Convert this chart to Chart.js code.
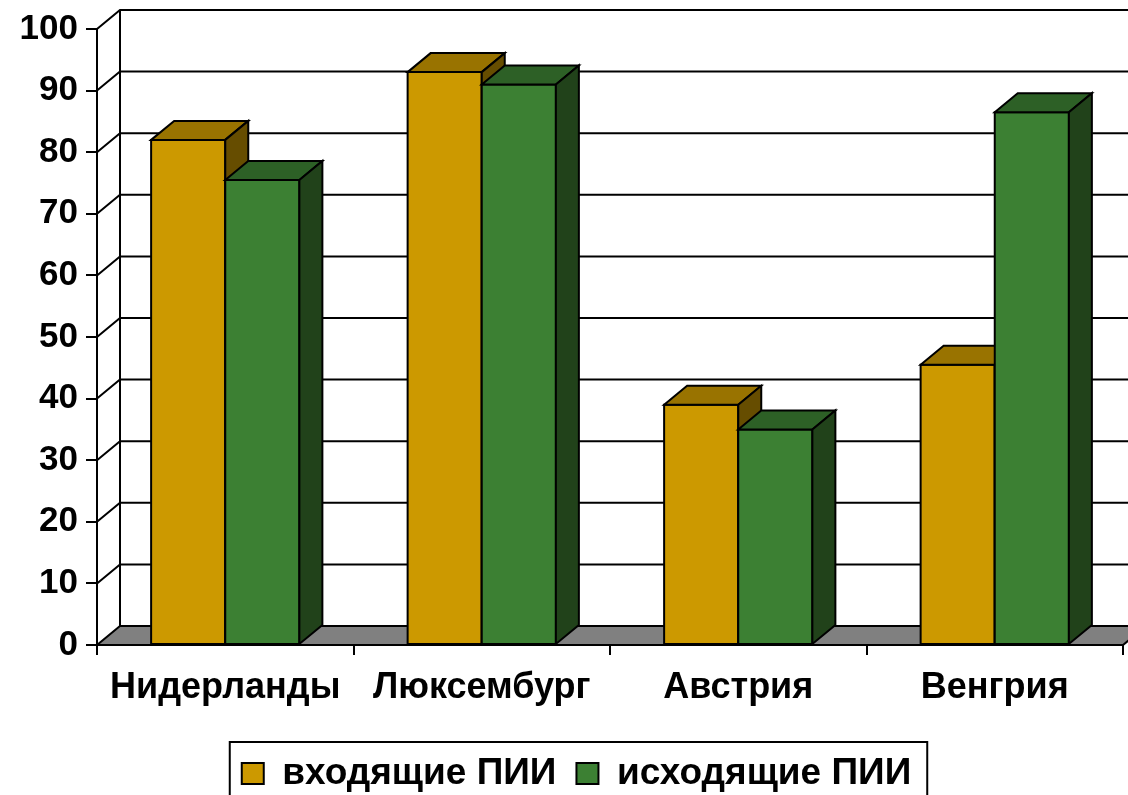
<!DOCTYPE html>
<html>
<head>
<meta charset="utf-8">
<script src="https://cdn.jsdelivr.net/npm/chart.js@4.4.1/dist/chart.umd.min.js"></script>
<style>
html,body{margin:0;padding:0;background:#fff;}
#wrap{width:1128px;height:795px;position:relative;overflow:hidden;}
</style>
</head>
<body>
<div id="wrap"><canvas id="c" width="1128" height="795"></canvas></div>
<script>
// ---- data ----
const categories = ['Нидерланды', 'Люксембург', 'Австрия', 'Венгрия'];
const seriesNames = ['входящие ПИИ', 'исходящие ПИИ'];
const inboundFDI = [82, 93, 39, 45.5];
const outboundFDI = [75.5, 91, 35, 86.5];
const yMin = 0, yMax = 100, yStep = 10;

// ---- style ----
const FONT = "'Liberation Sans', Arial, sans-serif";
const DX = 23, DY = 19;
const frontColors = ['#CC9900', '#3C8033'];
const topColors = ['#997300', '#2D6026'];
const sideColors = ['#664D00', '#21421A'];

function poly(ctx, pts, fill) {
  ctx.beginPath();
  ctx.moveTo(pts[0][0], pts[0][1]);
  for (let k = 1; k < pts.length; k++) ctx.lineTo(pts[k][0], pts[k][1]);
  ctx.closePath();
  ctx.fillStyle = fill;
  ctx.fill();
  ctx.stroke();
}

const depth3d = {
  id: 'depth3d',
  afterLayout(chart) {
    const lg = chart.legend;
    if (lg) { lg.left += 15; lg.right += 15; }
  },
  beforeDatasetsDraw(chart) {
    const ctx = chart.ctx, a = chart.chartArea, y = chart.scales.y;
    const y0 = y.getPixelForValue(yMin);
    const yT = y.getPixelForValue(yMax);
    ctx.save();
    ctx.lineWidth = 2;
    ctx.strokeStyle = '#000';
    poly(ctx, [[a.left, y0], [a.right, y0], [a.right + DX, y0 - DY], [a.left + DX, y0 - DY]], '#808080');
    ctx.beginPath();
    ctx.moveTo(a.left + DX, y0 - DY);
    ctx.lineTo(a.left + DX, yT - DY);
    ctx.stroke();
    y.ticks.forEach(t => {
      if (t.value <= yMin) return;
      const p = y.getPixelForValue(t.value);
      ctx.beginPath();
      ctx.moveTo(a.left, p);
      ctx.lineTo(a.left + DX, p - DY);
      ctx.lineTo(chart.width + DX + 10, p - DY);
      ctx.stroke();
    });
    ctx.restore();
  },
  afterDatasetsDraw(chart) {
    const ctx = chart.ctx;
    const n = chart.data.labels.length;
    const nd = chart.data.datasets.length;
    ctx.save();
    ctx.lineWidth = 2;
    ctx.strokeStyle = '#000';
    for (let j = 0; j < n; j++) {
      for (let i = 0; i < nd; i++) {
        const bar = chart.getDatasetMeta(i).data[j];
        const p = bar.getProps(['x', 'y', 'base', 'width'], true);
        const l = p.x - p.width / 2, r = p.x + p.width / 2, t = p.y, b = p.base;
        poly(ctx, [[l, t], [r, t], [r, b], [l, b]], frontColors[i]);
        poly(ctx, [[l, t], [l + DX, t - DY], [r + DX, t - DY], [r, t]], topColors[i]);
        poly(ctx, [[r, t], [r + DX, t - DY], [r + DX, b - DY], [r, b]], sideColors[i]);
      }
    }
    ctx.restore();
  }
};

const legendFrame = {
  id: 'legendFrame',
  afterDraw(chart) {
    const lg = chart.legend;
    if (!lg || !lg.legendHitBoxes || !lg.legendHitBoxes.length) return;
    const hb = lg.legendHitBoxes;
    const first = hb[0], last = hb[hb.length - 1];
    const ctx = chart.ctx;
    ctx.save();
    ctx.lineWidth = 2;
    ctx.strokeStyle = '#000';
    const left = first.left - 12;
    const right = last.left + last.width + 16;
    const top = first.top - 13;
    ctx.strokeRect(left, top, right - left, 100);
    ctx.restore();
  }
};

new Chart(document.getElementById('c'), {
  type: 'bar',
  data: {
    labels: categories,
    datasets: [
      { label: seriesNames[0], data: inboundFDI, backgroundColor: frontColors[0], borderColor: '#000', borderWidth: 2, borderSkipped: false },
      { label: seriesNames[1], data: outboundFDI, backgroundColor: frontColors[1], borderColor: '#000', borderWidth: 2, borderSkipped: false }
    ]
  },
  options: {
    responsive: false,
    animation: false,
    devicePixelRatio: 1,
    layout: { padding: { left: 0, right: 5, top: 29, bottom: -7 } },
    datasets: { bar: { categoryPercentage: 0.578, barPercentage: 1.0 } },
    scales: {
      x: {
        type: 'category',
        offset: true,
        grid: { offset: true, drawOnChartArea: false, drawTicks: true, tickLength: 10, color: '#000', lineWidth: 2 },
        border: { display: true, color: '#000', width: 2 },
        ticks: { color: '#000', font: { family: FONT, size: 36, weight: 'bold' }, padding: 11, maxRotation: 0, autoSkip: false },
        afterFit(scale) { scale.height = 90; }
      },
      y: {
        min: yMin, max: yMax,
        grid: { drawOnChartArea: false, drawTicks: true, tickLength: 11, color: '#000', lineWidth: 2 },
        border: { display: true, color: '#000', width: 2 },
        ticks: { stepSize: yStep, color: '#000', font: { family: FONT, size: 35, weight: 'bold' }, padding: 8 },
        afterFit(scale) { scale.width = 97; }
      }
    },
    plugins: {
      tooltip: { enabled: false },
      legend: {
        position: 'bottom',
        labels: { color: '#000', font: { family: FONT, size: 37, weight: 'bold' }, boxWidth: 22, boxHeight: 21, padding: 20 }
      }
    }
  },
  plugins: [depth3d, legendFrame]
});
</script>
</body>
</html>
